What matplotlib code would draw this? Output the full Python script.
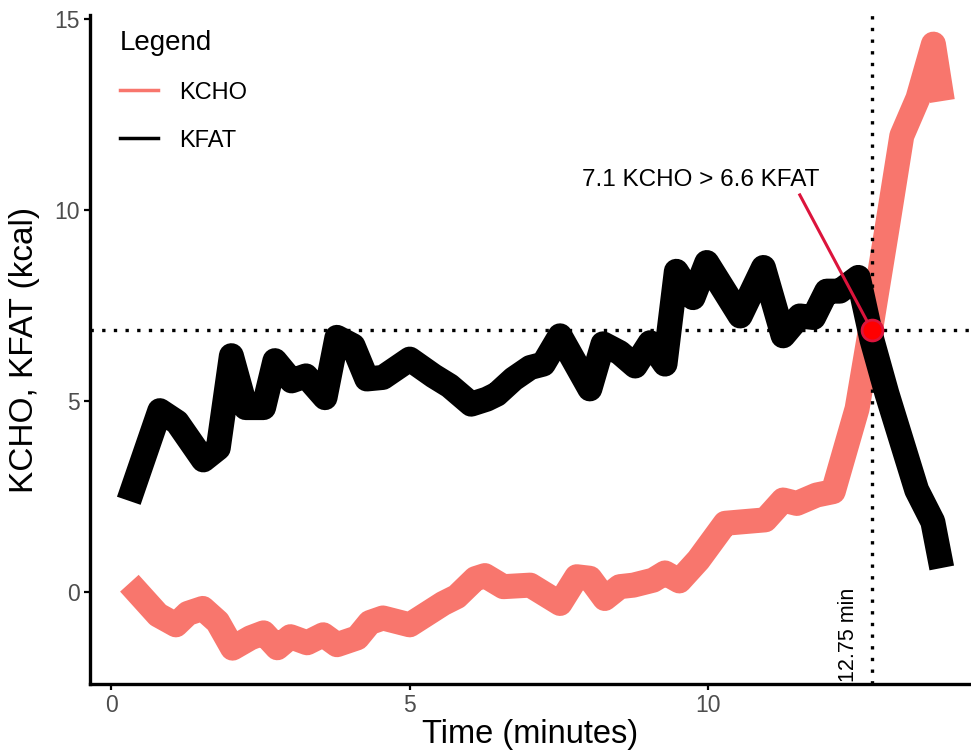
import matplotlib
matplotlib.use('Agg')
import matplotlib.pyplot as plt
from matplotlib.lines import Line2D

plt.rcParams['font.family'] = ['Liberation Sans', 'DejaVu Sans']

# values
kcho_time = [0.3, 0.78, 1.08, 1.28, 1.53, 1.78, 2.03, 2.33, 2.55, 2.78, 3.0, 3.28,
             3.55, 3.78, 4.12, 4.33, 4.55, 5.0, 5.56, 5.79, 6.1, 6.26, 6.57, 7.02,
             7.52, 7.8, 8.02, 8.27, 8.52, 8.75, 9.08, 9.28, 9.52, 9.84, 10.29, 10.51,
             10.96, 11.26, 11.49, 11.82, 12.1, 12.5, 12.75, 13.0, 13.25, 13.52, 13.78, 13.93]
kcho = [0.23, -0.6, -0.86, -0.56, -0.43, -0.78, -1.47, -1.2, -1.07, -1.46, -1.17, -1.33,
        -1.12, -1.38, -1.2, -0.8, -0.68, -0.86, -0.3, -0.12, 0.35, 0.43, 0.14, 0.18,
        -0.3, 0.4, 0.36, -0.17, 0.14, 0.18, 0.31, 0.5, 0.29, 0.84, 1.8, 1.83,
        1.89, 2.41, 2.32, 2.54, 2.63, 4.8, 7.1, 9.5, 11.95, 12.93, 14.35, 12.86]

kfat_time = [0.29, 0.81, 1.1, 1.54, 1.79, 2.01, 2.25, 2.55, 2.74, 3.02, 3.26, 3.58,
             3.78, 4.05, 4.28, 4.55, 5.0, 5.4, 5.67, 6.03, 6.29, 6.46, 6.74, 7.02,
             7.24, 7.52, 8.02, 8.24, 8.52, 8.78, 9.03, 9.28, 9.47, 9.75, 9.98, 10.54,
             10.93, 11.26, 11.54, 11.77, 11.99, 12.21, 12.52, 12.75, 13.0, 13.5, 13.77, 13.92]
kfat = [2.39, 4.75, 4.45, 3.46, 3.77, 6.19, 4.83, 4.83, 6.06, 5.53, 5.66, 5.09,
        6.67, 6.45, 5.58, 5.62, 6.1, 5.66, 5.4, 4.92, 5.05, 5.18, 5.58, 5.88,
        5.97, 6.71, 5.32, 6.5, 6.27, 5.92, 6.53, 5.97, 8.4, 7.71, 8.63, 7.23,
        8.5, 6.71, 7.23, 7.19, 7.88, 7.88, 8.24, 6.6, 5.2, 2.67, 1.84, 0.63]

cross_time = 12.75
cross_kcho = 7.1
cross_kfat = 6.6
cross_mid = (cross_kcho + cross_kfat) / 2

kcho_col = '#F8766D'
grey = '#4D4D4D'

fig = plt.figure(figsize=(9.71, 7.55), dpi=100)
ax = fig.add_axes([0.0927, 0.094, 0.9073, 0.886])

ax.plot(kcho_time, kcho, color=kcho_col, lw=18, solid_joinstyle='round', solid_capstyle='butt')
ax.plot(kfat_time, kfat, color='black', lw=18, solid_joinstyle='round', solid_capstyle='butt')

# dotted guides at the crossing point
ax.axhline(cross_mid, color='black', lw=2.4, ls=(0, (1, 2.5)))
ax.axvline(cross_time, color='black', lw=2.4, ls=(0, (1, 2.5)))

# annotation
ax.plot([11.54, cross_time], [10.4, cross_mid], color='crimson', lw=2.2)
ax.plot([cross_time], [cross_mid], 'o', color='red', mec='crimson', mew=2, ms=15)
ax.text(9.87, 10.79, f'{cross_kcho} KCHO > {cross_kfat} KFAT', fontsize=17.5,
        ha='center', va='center')
ax.text(12.36, -1.12, f'{cross_time} min', fontsize=15.5, rotation=90,
        ha='center', va='center')

ax.set_xlim(-0.36, 14.41)
ax.set_ylim(-2.41, 15.11)
ax.set_xticks([0, 5, 10])
ax.set_yticks([0, 5, 10, 15])
for s in ['top', 'right']:
    ax.spines[s].set_visible(False)
for s in ['left', 'bottom']:
    ax.spines[s].set_linewidth(2.4)
ax.tick_params(length=4, width=1.6, color='black', labelcolor=grey, labelsize=16.5)
ax.set_xlabel('Time (minutes)', fontsize=23.5, labelpad=1)
ax.set_ylabel('KCHO, KFAT (kcal)', fontsize=24, labelpad=10)

handles = [Line2D([], [], color=kcho_col, lw=2.5), Line2D([], [], color='black', lw=2.5)]
leg = ax.legend(handles, ['KCHO', 'KFAT'], title='Legend', loc='upper left',
                bbox_to_anchor=(0.01, 1.01), frameon=False, fontsize=17,
                title_fontsize=20, handlelength=1.6, handletextpad=0.9,
                labelspacing=1.1)
leg._legend_box.align = 'left'

fig.savefig('out.png', dpi=100)
